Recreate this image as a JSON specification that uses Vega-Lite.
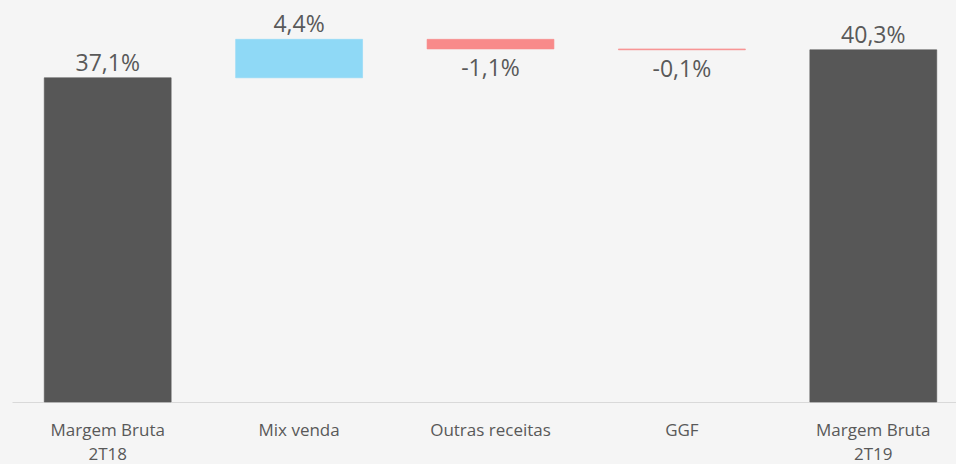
{
  "$schema": "https://vega.github.io/schema/vega-lite/v6.json",
  "width": 957,
  "height": 402,
  "autosize": {"type": "none"},
  "padding": {"left": 12, "top": 0, "right": 0, "bottom": 62},
  "background": "#f5f5f5",
  "config": {"view": {"stroke": null}},
  "data": {
    "values": [
      {"cat": "Margem Bruta|2T18", "start": 0, "end": 37.1, "label": "37,1%", "kind": "total"},
      {"cat": "Mix venda", "start": 37.1, "end": 41.5, "label": "4,4%", "kind": "up"},
      {"cat": "Outras receitas", "start": 41.5, "end": 40.4, "label": "-1,1%", "kind": "down"},
      {"cat": "GGF", "start": 40.4, "end": 40.3, "label": "-0,1%", "kind": "down"},
      {"cat": "Margem Bruta|2T19", "start": 0, "end": 40.3, "label": "40,3%", "kind": "total"}
    ]
  },
  "encoding": {
    "x": {
      "field": "cat",
      "type": "nominal",
      "sort": null,
      "scale": {"paddingInner": 0.337, "paddingOuter": 0.1685},
      "axis": {
        "title": null,
        "labelAngle": 0,
        "labelExpr": "split(datum.label, '|')",
        "labelFont": "Open Sans",
        "labelFontSize": 17,
        "labelColor": "#595959",
        "labelLineHeight": 24,
        "labelPadding": 20,
        "ticks": false,
        "domainColor": "#d9d9d9",
        "domainWidth": 1
      }
    }
  },
  "layer": [
    {
      "mark": {"type": "bar", "strokeWidth": 0.6},
      "encoding": {
        "y": {"field": "start", "type": "quantitative", "scale": {"domain": [0, 46], "nice": false, "zero": true}, "axis": null},
        "y2": {"field": "end"},
        "color": {
          "field": "cat",
          "type": "nominal",
          "sort": null,
          "scale": {
            "domain": ["Margem Bruta|2T18", "Mix venda", "Outras receitas", "GGF", "Margem Bruta|2T19"],
            "range": ["#575757", "#8fd9f6", "#f88a8a", "#f88a8a", "#575757"]
          },
          "legend": null
        },
        "stroke": {
          "field": "cat",
          "type": "nominal",
          "sort": null,
          "scale": {
            "domain": ["Margem Bruta|2T18", "Mix venda", "Outras receitas", "GGF", "Margem Bruta|2T19"],
            "range": ["#575757", "#8fd9f6", "#f88a8a", "#f88a8a", "#575757"]
          },
          "legend": null
        }
      }
    },
    {
      "transform": [{"filter": "datum.kind != 'down'"}],
      "mark": {"type": "text", "font": "Open Sans", "fontSize": 23, "color": "#595959", "baseline": "alphabetic", "dy": -7},
      "encoding": {
        "y": {"field": "end", "type": "quantitative"},
        "text": {"field": "label"}
      }
    },
    {
      "transform": [{"filter": "datum.kind == 'down'"}],
      "mark": {"type": "text", "font": "Open Sans", "fontSize": 23, "color": "#595959", "baseline": "alphabetic", "dy": 27},
      "encoding": {
        "y": {"field": "end", "type": "quantitative"},
        "text": {"field": "label"}
      }
    }
  ]
}
